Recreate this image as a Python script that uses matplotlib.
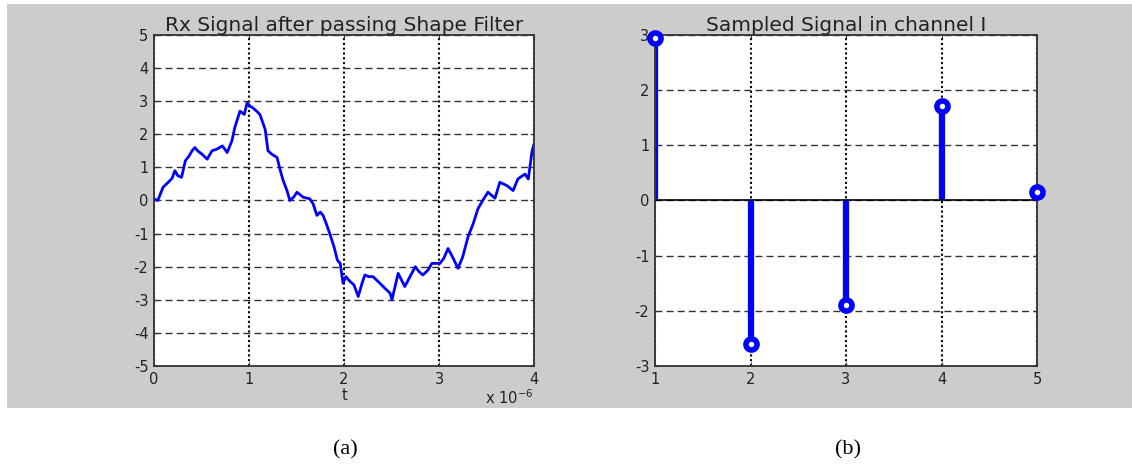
"""
Rx signal after shape filter (a) and the sampled signal of channel I (b)
"""

import matplotlib.pyplot as plt
from matplotlib.patches import Rectangle
from matplotlib.ticker import FuncFormatter

# time in microseconds
t_us = [0.00, 0.04, 0.095, 0.15, 0.19, 0.22, 0.25, 0.29, 0.33, 0.37,
        0.40, 0.43, 0.46, 0.505, 0.56, 0.61, 0.66, 0.72, 0.77, 0.82,
        0.85, 0.905, 0.95, 0.98, 1.01, 1.04, 1.08, 1.115, 1.17, 1.20,
        1.24, 1.295, 1.33, 1.36, 1.40, 1.43, 1.47, 1.505, 1.57, 1.64,
        1.675, 1.715, 1.75, 1.78, 1.82, 1.85, 1.895, 1.93, 1.96, 1.99,
        2.02, 2.065, 2.105, 2.15, 2.19, 2.22, 2.26, 2.305, 2.36, 2.43,
        2.485, 2.505, 2.57, 2.64, 2.695, 2.75, 2.79, 2.83, 2.885, 2.925,
        3.01, 3.05, 3.095, 3.15, 3.20, 3.25, 3.305, 3.36, 3.41, 3.46,
        3.515, 3.59, 3.64, 3.715, 3.78, 3.83, 3.905, 3.94, 3.98, 4.00]
rx = [0.05, 0.0, 0.4, 0.55, 0.67, 0.9, 0.75, 0.7, 1.2, 1.35,
      1.5, 1.6, 1.5, 1.4, 1.25, 1.5, 1.55, 1.65, 1.45, 1.8,
      2.2, 2.7, 2.6, 2.95, 2.85, 2.8, 2.7, 2.6, 2.15, 1.5,
      1.4, 1.3, 0.9, 0.6, 0.3, 0.0, 0.1, 0.25, 0.1, 0.05,
      -0.1, -0.45, -0.35, -0.45, -0.75, -1.0, -1.4, -1.8, -1.9, -2.5,
      -2.3, -2.45, -2.55, -2.9, -2.5, -2.25, -2.3, -2.3, -2.45, -2.65,
      -2.8, -3.0, -2.2, -2.6, -2.3, -2.0, -2.15, -2.25, -2.1, -1.9,
      -1.9, -1.75, -1.45, -1.75, -2.05, -1.7, -1.1, -0.7, -0.25, 0.0,
      0.25, 0.07, 0.55, 0.45, 0.3, 0.65, 0.8, 0.65, 1.5, 1.7]

# sampled values in channel I
n_idx = [1, 2, 3, 4, 5]
sampled = [2.95, -2.6, -1.9, 1.72, 0.15]

plt.rcParams['font.family'] = ['DejaVu Sans']
plt.rcParams['axes.unicode_minus'] = False
W, H = 1132, 469

fig = plt.figure(figsize=(W / 100, H / 100), dpi=100)
fig.patch.set_facecolor('white')
fig.add_artist(Rectangle((7 / W, 61 / H), 1125 / W, 404 / H, transform=fig.transFigure,
                         facecolor='#cccccc', edgecolor='none', zorder=-1))

ax1 = fig.add_axes([154 / W, 103 / H, 380 / W, 331 / H])
ax2 = fig.add_axes([655 / W, 103 / H, 382 / W, 331 / H])


def matlab_style(ax):
    ax.set_facecolor('white')
    for s in ax.spines.values():
        s.set_color('#333333')
        s.set_linewidth(1.3)
    ax.tick_params(direction='in', length=3, top=True, right=True,
                   labelsize=10.5, colors='#333333', labelcolor='#222222', pad=4)
    ax.xaxis.grid(True, linestyle=(0, (1, 1.3)), color='black', linewidth=1.5)
    ax.yaxis.grid(True, linestyle=(0, (5, 3)), color='#333333', linewidth=1.0)
    ax.set_axisbelow(True)


# (a) received signal
matlab_style(ax1)
ax1.plot([v * 1e-6 for v in t_us], rx, color='#0000ff', linewidth=2.0)
ax1.set_xlim(0, 4e-6)
ax1.set_ylim(-5, 5)
ax1.set_xticks([0, 1e-6, 2e-6, 3e-6, 4e-6])
ax1.set_yticks(range(-5, 6))
ax1.xaxis.set_major_formatter(FuncFormatter(lambda x, p: '%g' % round(x * 1e6, 3)))
ax1.set_title('Rx Signal after passing Shape Filter', fontsize=14.5, color='#222222', pad=3)
ax1.set_xlabel('t', fontsize=10.5, color='#222222', labelpad=1)
ax1.text(1.0, -0.097, 'x 10$^{-6}$', transform=ax1.transAxes, ha='right', va='center',
         fontsize=10.5, color='#222222')

# (b) sampled signal
matlab_style(ax2)
markerline, stemlines, baseline = ax2.stem(n_idx, sampled, linefmt='b-', markerfmt='bo', basefmt='k-')
plt.setp(stemlines, linewidth=4.5, color='#0000ff')
plt.setp(markerline, markersize=8, markerfacecolor='white', markeredgecolor='#0000ff',
         markeredgewidth=4, clip_on=False, zorder=5)
plt.setp(baseline, color='black', linewidth=1.2)
ax2.set_xlim(1, 5)
ax2.set_ylim(-3, 3)
ax2.set_xticks(n_idx)
ax2.set_yticks(range(-3, 4))
ax2.set_title('Sampled Signal in channel I', fontsize=14.5, color='#222222', pad=3)

fig.text(345 / W, 1 - 450 / H, '(a)', family='Liberation Serif', fontsize=16,
         ha='center', va='center')
fig.text(848 / W, 1 - 450 / H, '(b)', family='Liberation Serif', fontsize=16,
         ha='center', va='center')

fig.savefig('out.png', dpi=100)
